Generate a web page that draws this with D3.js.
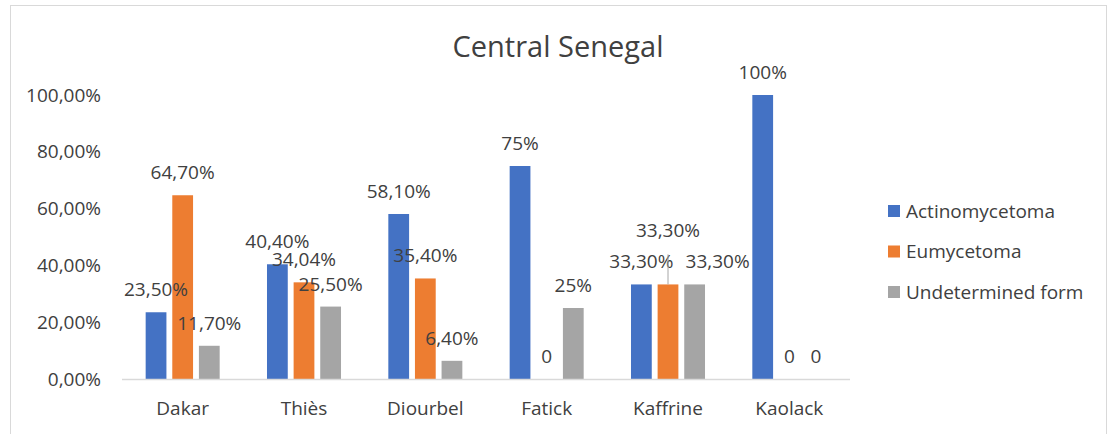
<!DOCTYPE html>
<html>
<head>
<meta charset="utf-8">
<script src="https://cdn.jsdelivr.net/npm/d3@7"></script>
<style>
  body { margin: 0; background: #fff; }
  text { font-family: "Open Sans", sans-serif; fill: #404040; }
</style>
</head>
<body>
<div id="chart"></div>
<script>
var regions = ["Dakar", "Thiès", "Diourbel", "Fatick", "Kaffrine", "Kaolack"];
var seriesNames = ["Actinomycetoma", "Eumycetoma", "Undetermined form"];
var actino = [23.5, 40.4, 58.1, 75, 33.3, 100];
var eumy = [64.7, 34.04, 35.4, 0, 33.3, 0];
var undet = [11.7, 25.5, 6.4, 25, 33.3, 0];
var actinoLabels = ["23,50%", "40,40%", "58,10%", "75%", "33,30%", "100%"];
var eumyLabels = ["64,70%", "34,04%", "35,40%", "0", "33,30%", "0"];
var undetLabels = ["11,70%", "25,50%", "6,40%", "25%", "33,30%", "0"];
var yTicks = [0, 20, 40, 60, 80, 100];
var yTickLabels = ["0,00%", "20,00%", "40,00%", "60,00%", "80,00%", "100,00%"];

var colors = ["#4472C4", "#ED7D31", "#A5A5A5"];
var values = [actino, eumy, undet];
var labels = [actinoLabels, eumyLabels, undetLabels];

var width = 1113, height = 434;
var margin = { top: 95, left: 122, bottom: 55, right: 263 };

var svg = d3.select("#chart")
    .append("svg")
    .attr("width", width)
    .attr("height", height);

// chart frame
svg.append("rect")
    .attr("x", 10.5).attr("y", 5.5)
    .attr("width", 1096).attr("height", 440)
    .style("fill", "none")
    .style("stroke", "#D9D9D9");

var x = d3.scaleBand()
    .domain(regions)
    .range([margin.left, width - margin.right])
    .paddingInner(0.39)
    .paddingOuter(0.195);

var xs = d3.scaleBand()
    .domain(d3.range(3))
    .range([0, x.bandwidth()])
    .paddingInner(0.22);

var y = d3.scaleLinear()
    .domain([0, 100])
    .range([height - margin.bottom, margin.top]);

svg.append("text")
    .attr("x", 558).attr("y", 57)
    .attr("text-anchor", "middle")
    .style("font-size", "29px")
    .text("Central Senegal");

// y axis labels
svg.selectAll(".ytick")
    .data(yTicks)
    .enter()
    .append("text")
    .attr("x", 101)
    .attr("y", function (d) { return y(d); })
    .attr("dy", "0.35em")
    .attr("text-anchor", "end")
    .style("font-size", "19px")
    .text(function (d, i) { return yTickLabels[i]; });

// bars
values.forEach(function (vals, s) {
    svg.selectAll(".bar" + s)
        .data(vals)
        .enter()
        .append("rect")
        .attr("x", function (d, i) { return x(regions[i]) + xs(s); })
        .attr("y", function (d) { return y(d); })
        .attr("width", xs.bandwidth())
        .attr("height", function (d) { return y(0) - y(d); })
        .style("fill", colors[s]);
});

// x axis line
svg.append("line")
    .attr("x1", margin.left).attr("x2", width - margin.right)
    .attr("y1", y(0) + 0.5).attr("y2", y(0) + 0.5)
    .style("stroke", "#D9D9D9")
    .style("stroke-width", 1.5);

svg.selectAll(".xlab")
    .data(regions)
    .enter()
    .append("text")
    .attr("x", function (d) { return x(d) + x.bandwidth() / 2; })
    .attr("y", 415)
    .attr("text-anchor", "middle")
    .style("font-size", "19px")
    .text(function (d) { return d; });

// data labels; in Kaffrine the orange label sits higher (leader line)
// and the gray one is nudged right
values.forEach(function (vals, s) {
    svg.selectAll(".lab" + s)
        .data(vals)
        .enter()
        .append("text")
        .attr("x", function (d, i) {
            var dx = (s === 2 && i === 4) ? 23 : 0;
            return x(regions[i]) + xs(s) + xs.bandwidth() / 2 + dx;
        })
        .attr("y", function (d, i) {
            var off = (s === 1 && i === 4) ? 31 : 0;
            return y(d) - 16 - off;
        })
        .attr("text-anchor", "middle")
        .style("font-size", "19px")
        .text(function (d, i) { return labels[s][i]; });
});

var kx = x(regions[4]) + xs(1) + xs.bandwidth() / 2;
svg.append("line")
    .attr("x1", kx).attr("x2", kx)
    .attr("y1", y(eumy[4]) - 30).attr("y2", y(eumy[4]))
    .style("stroke", "#A6A6A6")
    .style("stroke-width", 1);

// legend
var legend = svg.selectAll(".legend")
    .data(seriesNames)
    .enter()
    .append("g")
    .attr("transform", function (d, i) { return "translate(888," + (211 + i * 40.5) + ")"; });

legend.append("rect")
    .attr("x", 0).attr("y", -6)
    .attr("width", 12).attr("height", 12)
    .style("fill", function (d, i) { return colors[i]; });

legend.append("text")
    .attr("x", 18)
    .attr("dy", "0.35em")
    .style("font-size", "19px")
    .text(function (d) { return d; });
</script>
</body>
</html>
